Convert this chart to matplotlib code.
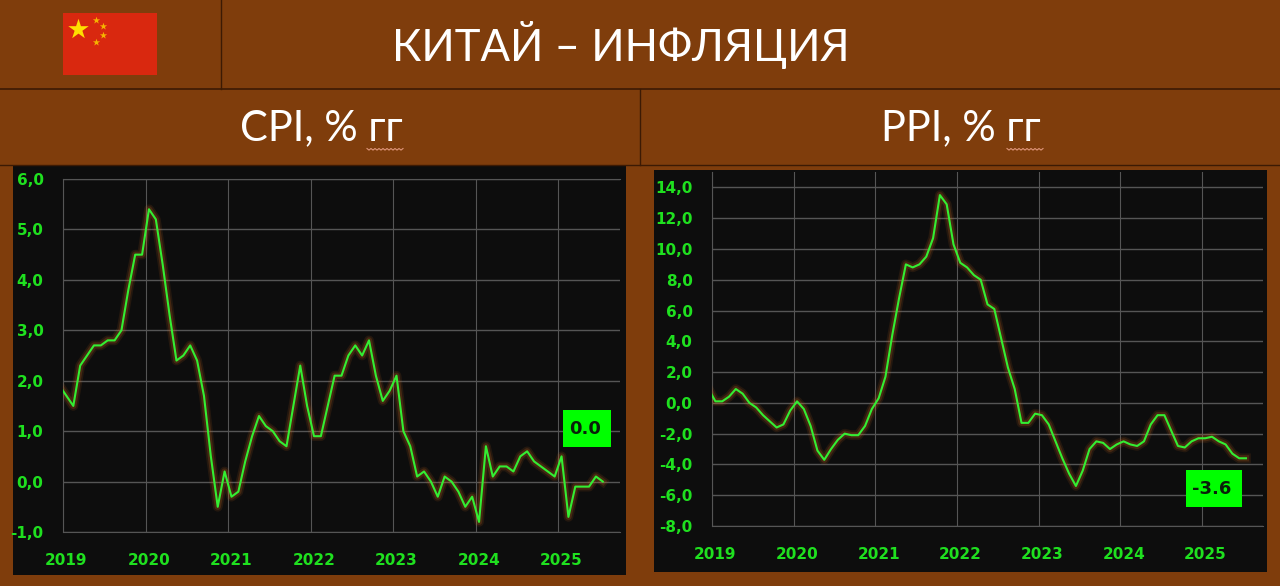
import numpy as np
import matplotlib
matplotlib.use('Agg')
import matplotlib.pyplot as plt
import matplotlib.patheffects as pe
from matplotlib.patches import Rectangle
from matplotlib.transforms import ScaledTranslation

# monthly values, first point is Dec 2018 (clipped by the axis), last is Jul 2025
cpi = [1.9, 1.7, 1.5, 2.3, 2.5, 2.7, 2.7, 2.8, 2.8, 3.0, 3.8, 4.5, 4.5,
       5.4, 5.2, 4.3, 3.3, 2.4, 2.5, 2.7, 2.4, 1.7, 0.5, -0.5, 0.2,
       -0.3, -0.2, 0.4, 0.9, 1.3, 1.1, 1.0, 0.8, 0.7, 1.5, 2.3, 1.5,
       0.9, 0.9, 1.5, 2.1, 2.1, 2.5, 2.7, 2.5, 2.8, 2.1, 1.6, 1.8,
       2.1, 1.0, 0.7, 0.1, 0.2, 0.0, -0.3, 0.1, 0.0, -0.2, -0.5, -0.3,
       -0.8, 0.7, 0.1, 0.3, 0.3, 0.2, 0.5, 0.6, 0.4, 0.3, 0.2, 0.1,
       0.5, -0.7, -0.1, -0.1, -0.1, 0.1, 0.0]
ppi = [0.9, 0.1, 0.1, 0.4, 0.9, 0.6, 0.0, -0.3, -0.8, -1.2, -1.6, -1.4, -0.5,
       0.1, -0.4, -1.5, -3.1, -3.7, -3.0, -2.4, -2.0, -2.1, -2.1, -1.5, -0.4,
       0.3, 1.7, 4.4, 6.8, 9.0, 8.8, 9.0, 9.5, 10.7, 13.5, 12.9, 10.3,
       9.1, 8.8, 8.3, 8.0, 6.4, 6.1, 4.2, 2.3, 0.9, -1.3, -1.3, -0.7,
       -0.8, -1.4, -2.5, -3.6, -4.6, -5.4, -4.4, -3.0, -2.5, -2.6, -3.0, -2.7,
       -2.5, -2.7, -2.8, -2.5, -1.4, -0.8, -0.8, -1.8, -2.8, -2.9, -2.5, -2.3,
       -2.3, -2.2, -2.5, -2.7, -3.3, -3.6, -3.6]
years = [2019, 2020, 2021, 2022, 2023, 2024, 2025]
cpi_ticks = [-1, 0, 1, 2, 3, 4, 5, 6]
ppi_ticks = [-8, -6, -4, -2, 0, 2, 4, 6, 8, 10, 12, 14]

W, H = 1280, 586
BROWN = '#7f3d0c'
DARK = '#3c1a04'
PANEL = '#0d0d0d'
GRID = '#555555'
GREEN = '#1fe01f'
LINE = '#33ee33'

plt.rcParams['font.family'] = 'DejaVu Sans'
fig = plt.figure(figsize=(12.8, 5.86), dpi=100, facecolor=BROWN)


def px_axes(left, top, right, bottom):
    return fig.add_axes([left / W, 1 - bottom / H, (right - left) / W, (bottom - top) / H])


def overlay(z):
    a = fig.add_axes([0, 0, 1, 1], zorder=z)
    a.set_xlim(0, W)
    a.set_ylim(H, 0)
    a.axis('off')
    return a


def draw_chart(box, values, ticks, ymin, ymax, top_line):
    ax = px_axes(*box)
    ax.set_zorder(1)
    ax.set_facecolor(PANEL)
    x = 2019 + (np.arange(len(values)) - 0.5) / 12
    glow = [pe.Stroke(linewidth=7, foreground='#d06a1e', alpha=0.12),
            pe.Stroke(linewidth=4.5, foreground='#d06a1e', alpha=0.2),
            pe.Normal()]
    ax.plot(x, values, color=LINE, lw=1.5, path_effects=glow, zorder=3)
    ax.set_xlim(2019, 2025.75)
    ax.set_ylim(ymin, ymax)
    ax.set_xticks(years)
    ax.set_xticklabels([str(y) for y in years])
    ax.set_yticks(ticks)
    ax.set_yticklabels([f'{t:.1f}'.replace('.', ',') for t in ticks])
    ax.tick_params(axis='both', length=0, labelcolor=GREEN, labelsize=11)
    ax.tick_params(axis='x', pad=15)
    ax.tick_params(axis='y', pad=14)
    shift = ScaledTranslation(3.5 / 100, 0, fig.dpi_scale_trans)
    for lab in ax.get_xticklabels():
        lab.set_fontweight('bold')
        lab.set_transform(lab.get_transform() + shift)
    for lab in ax.get_yticklabels():
        lab.set_fontweight('bold')
    ax.grid(True, axis='y', color=GRID, lw=1.0)
    ax.grid(True, axis='x', color=GRID, lw=0.8)
    for name, sp in ax.spines.items():
        sp.set_color(GRID)
        sp.set_linewidth(0.8)
        sp.set_visible(name in ('left', 'bottom') or (name == 'top' and top_line))
    return ax


bg = overlay(0)
fg = overlay(2)

# header lines
bg.plot([0, W], [89, 89], color=DARK, lw=1.2)
bg.plot([221, 221], [0, 89], color=DARK, lw=1.0)
bg.plot([639.5, 639.5], [89, 165], color=DARK, lw=1.0)
bg.plot([0, W], [165, 165], color=DARK, lw=1.0)

# chart panels
bg.add_patch(Rectangle((12.5, 165), 613, 410, fc=PANEL, ec='none'))
bg.add_patch(Rectangle((654, 170), 613, 402, fc=PANEL, ec='none'))

# flag
bg.add_patch(Rectangle((63, 13), 94, 62, fc='#d9280f', ec='none'))
bg.scatter([78], [29], marker='*', s=240, color='#ffdf00', linewidths=0)
bg.scatter([95.5, 102.5, 102.5, 95.5], [19.5, 26, 35, 41.5], marker='*', s=30,
           color='#f5b400', linewidths=0)

# titles
bg.text(621, 45, 'КИТАЙ – ИНФЛЯЦИЯ', color='white', family='Lato', fontsize=31.5,
        ha='center', va='center')
bg.text(321, 128, 'CPI, % гг', color='white', family='Lato', fontsize=30,
        ha='center', va='center')
bg.text(961, 128, 'PPI, % гг', color='white', family='Lato', fontsize=30,
        ha='center', va='center')

# spell-check squiggle under the "гг"
for x0 in (367, 1007):
    sx = np.arange(x0, x0 + 36.5, 2)
    bg.plot(sx, 148.5 + 1.6 * (np.arange(len(sx)) % 2), color='#e0967a', lw=0.8)

draw_chart((63, 179, 620, 532), cpi, cpi_ticks, -1, 6, True)
draw_chart((712, 172, 1263, 526), ppi, ppi_ticks, -8, 15, False)

# last value boxes
for (l, t, r, b), val in [((563, 410, 611, 447), cpi[-1]), ((1186, 470, 1242, 507), ppi[-1])]:
    fg.add_patch(Rectangle((l, t), r - l, b - t, fc='#00ff00', ec='none'))
    fg.text((l + r) / 2 - 2, (t + b) / 2, f'{val:.1f}', color='#0a1f0a',
            fontweight='bold', fontsize=13, ha='center', va='center')

fig.savefig('out.png', dpi=100, facecolor=BROWN)
